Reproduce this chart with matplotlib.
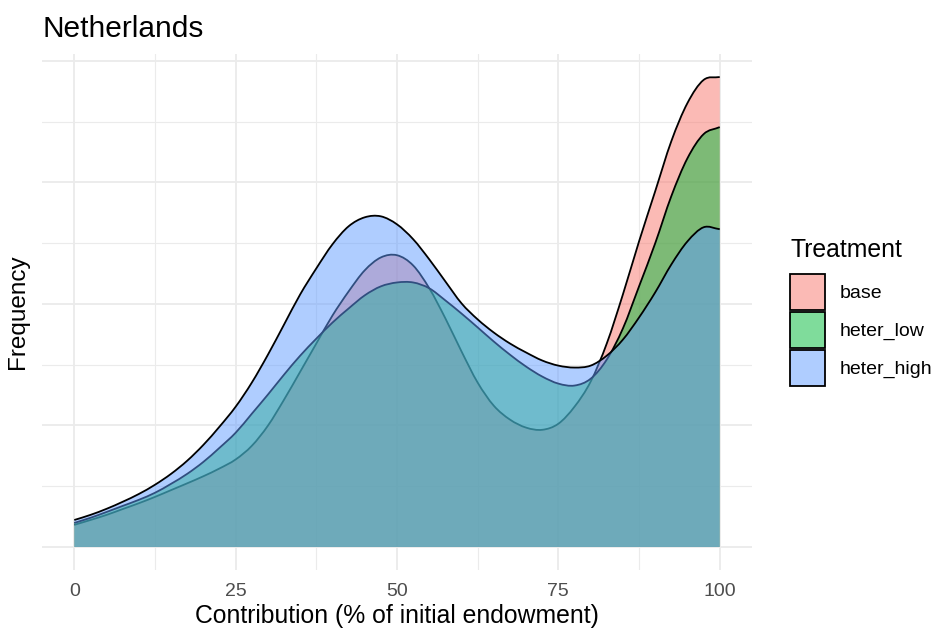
import matplotlib
matplotlib.use("Agg")
import matplotlib.pyplot as plt
import numpy as np
from matplotlib.patches import Rectangle, PathPatch
from matplotlib.path import Path

plt.rcParams['font.family'] = ['Liberation Sans', 'DejaVu Sans']

# contribution grid (% of endowment) and kernel density per treatment (x 1e-3)
contribution = np.arange(0, 101, 2.5)

base = [0.91, 1.11, 1.32, 1.56, 1.80, 2.06, 2.34, 2.62, 2.91, 3.23,
        3.60, 4.16, 4.99, 6.06, 7.21, 8.37, 9.52, 10.51, 11.38, 11.91,
        12.00, 11.58, 10.64, 9.40, 8.04, 6.76, 5.81, 5.24, 4.91, 4.82,
        5.07, 5.77, 6.80, 8.37, 10.39, 12.57, 14.63, 16.69, 18.26, 19.21,
        19.33]
heter_low = [0.99, 1.20, 1.44, 1.69, 1.94, 2.23, 2.60, 3.01, 3.50, 4.08,
             4.70, 5.48, 6.27, 7.09, 7.87, 8.57, 9.23, 9.81, 10.35, 10.72,
             10.88, 10.88, 10.64, 10.14, 9.60, 9.03, 8.45, 7.91, 7.42, 7.01,
             6.72, 6.64, 6.92, 7.71, 8.99, 10.72, 12.49, 14.43, 15.99, 16.98,
             17.27]
heter_high = [1.11, 1.32, 1.57, 1.86, 2.18, 2.56, 3.01, 3.55, 4.20, 4.95,
              5.77, 6.76, 7.91, 9.15, 10.39, 11.46, 12.45, 13.19, 13.56, 13.60,
              13.27, 12.66, 11.83, 10.92, 10.02, 9.36, 8.82, 8.37, 8.00, 7.67,
              7.46, 7.38, 7.46, 7.87, 8.53, 9.44, 10.47, 11.62, 12.57, 13.15,
              13.07]

treatments = ["base", "heter_low", "heter_high"]
densities = [base, heter_low, heter_high]
colors = ["#F8766D", "#00BA38", "#619CFF"]

x_breaks = [0, 25, 50, 75, 100]
grid_col = "#EBEBEB"


def smooth_path(x, y):
    # cubic bezier segments through the points (catmull-rom tangents)
    pts = np.column_stack([x, y])
    tang = np.gradient(pts, axis=0)
    verts = [pts[0]]
    codes = [Path.MOVETO]
    for i in range(len(pts) - 1):
        verts += [pts[i] + tang[i] / 3, pts[i + 1] - tang[i + 1] / 3, pts[i + 1]]
        codes += [Path.CURVE4] * 3
    return verts, codes


fig = plt.figure(figsize=(9.38, 6.35), dpi=100)
ax = fig.add_axes([0.0448, 0.1016, 0.7569, 0.8141])

for name, dens, col in zip(treatments, densities, colors):
    y = np.array(dens) / 1000
    verts, codes = smooth_path(contribution, y)
    area = Path(verts + [(contribution[-1], 0), (contribution[0], 0), verts[0]],
                codes + [Path.LINETO, Path.LINETO, Path.CLOSEPOLY])
    ax.add_patch(PathPatch(area, facecolor=col, alpha=0.5, linewidth=0, zorder=2))
    ax.add_patch(PathPatch(Path(verts, codes), facecolor="none", edgecolor="black",
                           linewidth=1.3, zorder=2))

ymax = max(max(d) for d in densities) / 1000
pad = 0.05 * ymax
ax.set_xlim(-5, 105)
ax.set_ylim(-pad, ymax + pad)

ax.set_xticks(x_breaks)
ax.set_xticks(np.arange(12.5, 100, 25), minor=True)
ax.set_yticks(np.arange(0, 0.0201, 0.005))
ax.set_yticks(np.arange(0.0025, 0.02, 0.005), minor=True)
ax.grid(True, which="major", color=grid_col, linewidth=1.3, zorder=0)
ax.grid(True, which="minor", color=grid_col, linewidth=0.8, zorder=0)
ax.set_axisbelow(True)

ax.tick_params(axis="both", which="both", length=0)
ax.tick_params(axis="x", labelsize=14, labelcolor="#4D4D4D", pad=9)
ax.set_yticklabels([])
for s in ax.spines.values():
    s.set_visible(False)

ax.set_xlabel("Contribution (% of initial endowment)", fontsize=17.8, labelpad=3)
ax.set_ylabel("Frequency", fontsize=17.5, labelpad=6)
fig.text(0.0448, 0.955, "Netherlands", fontsize=21.5, ha="left", va="center")

# legend
W, H = 938, 635
fig.text(790 / W, 1 - 250 / H, "Treatment", fontsize=17.8, ha="left", va="center")
for i, (name, col) in enumerate(zip(treatments, colors)):
    top = 274 + i * 38
    rgba = matplotlib.colors.to_rgba(col, 0.5)
    fig.patches.append(Rectangle((790 / W, 1 - (top + 36) / H), 35 / W, 36 / H,
                                 transform=fig.transFigure, facecolor=rgba,
                                 edgecolor="black", linewidth=1.3))
    fig.text(840 / W, 1 - (top + 19) / H, name, fontsize=14, ha="left", va="center")

fig.savefig("out.png", dpi=100, facecolor="white")
